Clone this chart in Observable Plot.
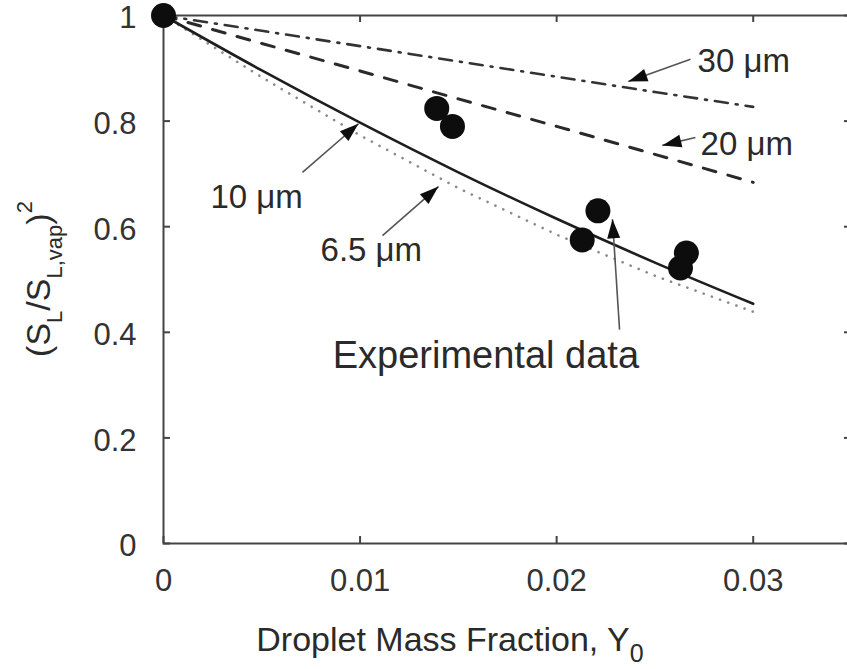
<!DOCTYPE html>
<html>
<head>
<meta charset="utf-8">
<script src="https://cdn.jsdelivr.net/npm/d3@7"></script>
<script src="https://cdn.jsdelivr.net/npm/@observablehq/plot@0.6"></script>
<style>
  html, body { margin: 0; padding: 0; background: #fff; }
  #chart svg { display: block; }
</style>
</head>
<body>
<div id="chart"></div>
<script>
// ---- data ----
const xTicks = [0, 0.01, 0.02, 0.03];
const yTicks = [0, 0.2, 0.4, 0.6, 0.8, 1];

const modelX = [0, 0.005, 0.01, 0.015, 0.02, 0.025, 0.03];
const y6_5um = [1, 0.883, 0.773, 0.673, 0.585, 0.507, 0.439];
const y10um  = [1, 0.896, 0.797, 0.703, 0.615, 0.532, 0.454];
const y20um  = [1, 0.947, 0.895, 0.842, 0.790, 0.737, 0.684];
const y30um  = [1, 0.971, 0.942, 0.913, 0.884, 0.855, 0.827];

const expX = [0, 0.0139, 0.0147, 0.0213, 0.0221, 0.0263, 0.0266];
const expY = [1, 0.824, 0.790, 0.575, 0.630, 0.522, 0.550];

const noteText  = ["30 μm", "20 μm", "10 μm", "6.5 μm", "Experimental data"];
const noteX     = [0.02717, 0.02732, 0.00239, 0.00799, 0.01640];
const noteY     = [0.913, 0.756, 0.656, 0.555, 0.356];
const noteSize  = [33, 33, 33, 33, 38];
const noteAnchor = ["start", "start", "start", "start", "middle"];
const arrowFromX = [0.02681, 0.02706, 0.00707, 0.01114, 0.02320];
const arrowFromY = [0.917, 0.769, 0.703, 0.583, 0.405];
const arrowTipX  = [0.02365, 0.02538, 0.00992, 0.01399, 0.02284];
const arrowTipY  = [0.875, 0.754, 0.795, 0.676, 0.614];

// ---- layout ----
const W = 847, H = 669;
const mL = 163, mT = 15, mB = 126, mR = -4;
const xDomain = [0, 0.035], yDomain = [0, 1];
const innerH = H - mT - mB;
const kx = (W - mL - mR) / (xDomain[1] - xDomain[0]);
const ky = innerH / (yDomain[1] - yDomain[0]);
const FONT = "'Liberation Sans', Arial, Helvetica, sans-serif";
const INK = "#333";

const series = (ys, name) => modelX.map((x, i) => ({x, y: ys[i], name}));
const exp = expX.map((x, i) => ({x, y: expY[i]}));
const notes = noteText.map((t, i) => ({
  t, x: noteX[i], y: noteY[i], size: noteSize[i], anchor: noteAnchor[i],
  x1: arrowFromX[i], y1: arrowFromY[i], x2: arrowTipX[i], y2: arrowTipY[i],
  angle: Math.atan2((arrowTipX[i] - arrowFromX[i]) * kx, (arrowTipY[i] - arrowFromY[i]) * ky) * 180 / Math.PI
}));

// arrowhead with tip at the origin, pointing up
const arrowHead = {
  draw(context) {
    context.moveTo(0, 0);
    context.lineTo(6.5, 19);
    context.lineTo(-6.5, 19);
    context.closePath();
  }
};

const tickLen = 7;
const innerW = W - mL - mR;

const noteMarks = notes.map(n =>
  Plot.text([n], {x: "x", y: "y", text: "t", textAnchor: n.anchor, fontSize: n.size, fill: "#2a2a2a"})
);

const plot = Plot.plot({
  width: W, height: H,
  marginLeft: mL, marginTop: mT, marginBottom: mB, marginRight: mR,
  style: {fontFamily: FONT, background: "#fff", color: INK, overflow: "visible"},
  x: {domain: xDomain, axis: null},
  y: {domain: yDomain, axis: null},
  marks: [
    Plot.frame({stroke: "#444", strokeWidth: 2}),
    // inward ticks
    Plot.tickX(xTicks, {x: d => d, insetTop: innerH - tickLen, stroke: "#444", strokeWidth: 2}),
    Plot.tickX(xTicks, {x: d => d, insetBottom: innerH - tickLen, stroke: "#444", strokeWidth: 2}),
    Plot.tickY(yTicks, {y: d => d, insetRight: innerW - tickLen, stroke: "#444", strokeWidth: 2}),
    Plot.tickY(yTicks, {y: d => d, insetLeft: innerW - tickLen, stroke: "#444", strokeWidth: 2}),
    Plot.axisX({ticks: xTicks, tickSize: 0, tickPadding: 25, fontSize: 31, tickFormat: d => String(d), fill: "#333"}),
    Plot.axisY({ticks: yTicks, tickSize: 0, tickPadding: 27, dy: 3, fontSize: 31, tickFormat: d => String(d), fill: "#333"}),
    // model curves
    Plot.line(series(y6_5um, "6.5"), {x: "x", y: "y", stroke: "#8a8a8a", strokeWidth: 2.6, strokeDasharray: "0.1 8.6", strokeLinecap: "round"}),
    Plot.line(series(y10um, "10"), {x: "x", y: "y", stroke: "#1e1e1e", strokeWidth: 2.6, curve: "monotone-x"}),
    Plot.line(series(y20um, "20"), {x: "x", y: "y", stroke: "#2a2a2a", strokeWidth: 3, strokeDasharray: "13 12.5"}),
    Plot.line(series(y30um, "30"), {x: "x", y: "y", stroke: "#333", strokeWidth: 2.6, strokeDasharray: "13 8 2 8"}),
    // experimental data
    Plot.dot(exp, {x: "x", y: "y", r: 12.5, fill: "#0d0d0d", stroke: "none"}),
    // annotation arrows
    Plot.link(notes, {x1: "x1", y1: "y1", x2: "x2", y2: "y2", stroke: "#555", strokeWidth: 1.6}),
    Plot.dot(notes, {x: "x2", y: "y2", symbol: arrowHead, rotate: "angle", r: 6, fill: "#0d0d0d", stroke: "none"}),
    ...noteMarks
  ]
});

// axis titles with sub/superscripts
const s = d3.select(plot);
const xl = s.append("text")
  .attr("x", 450).attr("y", 651)
  .attr("text-anchor", "middle")
  .attr("font-family", FONT).attr("font-size", 34).attr("fill", "#2a2a2a");
xl.append("tspan").text("Droplet Mass Fraction, Y");
xl.append("tspan").attr("dy", 11).attr("font-size", 25).text("0");

const yl = s.append("text")
  .attr("transform", "translate(50,279) rotate(-90)")
  .attr("text-anchor", "middle")
  .attr("font-family", FONT).attr("font-size", 34).attr("fill", "#2a2a2a");
yl.append("tspan").text("(S");
yl.append("tspan").attr("dy", 12).attr("font-size", 22).text("L");
yl.append("tspan").attr("dy", -12).text("/S");
yl.append("tspan").attr("dy", 12).attr("font-size", 22).text("L,vap");
yl.append("tspan").attr("dy", -12).text(")");
yl.append("tspan").attr("dy", -18).attr("font-size", 22).text("2");

document.getElementById("chart").appendChild(plot);
</script>
</body>
</html>
